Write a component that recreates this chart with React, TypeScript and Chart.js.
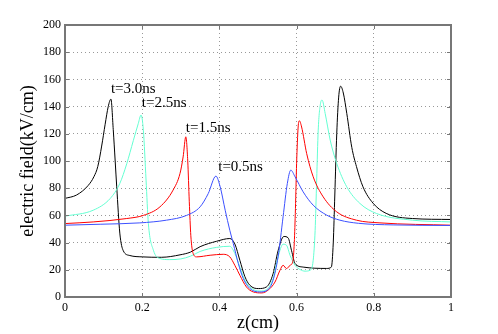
import React, { useEffect, useRef } from "react";
import { Chart, registerables } from "chart.js";

Chart.register(...registerables);

// t = 0.5 ns (blue)
const zBlue = [0, 0.091, 0.194, 0.263, 0.315, 0.35, 0.371, 0.391, 0.402, 0.415, 0.427, 0.436, 0.449, 0.462, 0.479, 0.505, 0.526, 0.539, 0.552, 0.565, 0.576, 0.585, 0.596, 0.617, 0.643, 0.678, 0.712, 0.76, 0.85, 1];
const eBlue = [52.8, 53.5, 54.5, 56.5, 60, 66.3, 76, 88.9, 81, 63.8, 49, 39.3, 24.6, 13.5, 6.2, 3.7, 5.4, 12.3, 29.5, 59, 83.5, 93.3, 88.4, 77.3, 67.5, 60.2, 56.5, 54.2, 53, 52.6];

// t = 1.5 ns (red)
const zRed = [0, 0.073, 0.16, 0.203, 0.246, 0.28, 0.298, 0.306, 0.313, 0.318, 0.322, 0.326, 0.332, 0.341, 0.376, 0.41, 0.427, 0.44, 0.453, 0.47, 0.488, 0.51, 0.526, 0.544, 0.557, 0.565, 0.574, 0.583, 0.59, 0.594, 0.597, 0.6, 0.604, 0.607, 0.613, 0.626, 0.643, 0.669, 0.704, 0.755, 0.816, 1];
const eRed = [54, 55.2, 57.7, 60, 66.3, 78.6, 90.9, 103, 117.8, 100, 70, 45, 32, 29.5, 30.7, 31.4, 29.5, 23.3, 16, 7.4, 3.7, 3, 5, 11, 19.7, 23.3, 20.9, 23.3, 26, 40, 65, 98, 125, 129.6, 125, 105.6, 88.4, 73.6, 62.6, 56.5, 54.5, 52.8];

// t = 2.5 ns (cyan)
const zCyan = [0, 0.073, 0.117, 0.142, 0.16, 0.177, 0.19, 0.197, 0.203, 0.21, 0.216, 0.229, 0.246, 0.27, 0.3, 0.325, 0.35, 0.393, 0.427, 0.44, 0.453, 0.466, 0.484, 0.505, 0.522, 0.539, 0.552, 0.565, 0.574, 0.583, 0.596, 0.609, 0.622, 0.635, 0.643, 0.648, 0.652, 0.656, 0.662, 0.666, 0.674, 0.687, 0.704, 0.73, 0.764, 0.807, 0.9, 1];
const eCyan = [59.4, 63.8, 72.4, 83.5, 98, 115, 127.7, 133.8, 122.7, 86, 54, 34.4, 28.3, 27.5, 28, 30, 33.5, 36.5, 37.3, 32, 22, 12.3, 6.2, 4.4, 5.4, 13.5, 29.5, 38.8, 38, 30.7, 23.3, 20.2, 19, 19.7, 27, 49, 86, 122.7, 142.4, 144.8, 135, 115.4, 98.2, 81, 68.8, 61.4, 56.5, 55.2];

// t = 3.0 ns (black)
const zBlack = [0, 0.03, 0.06, 0.075, 0.085, 0.095, 0.104, 0.112, 0.119, 0.125, 0.13, 0.134, 0.142, 0.151, 0.168, 0.2, 0.25, 0.298, 0.325, 0.35, 0.393, 0.427, 0.44, 0.453, 0.466, 0.479, 0.501, 0.522, 0.539, 0.552, 0.567, 0.578, 0.587, 0.596, 0.617, 0.678, 0.69, 0.695, 0.699, 0.704, 0.709, 0.714, 0.721, 0.73, 0.743, 0.755, 0.772, 0.798, 0.832, 0.9, 1];
const eBlack = [72.5, 75, 82, 88.5, 96, 111, 127, 140, 145.5, 123, 100, 81, 47, 34, 30.5, 29.5, 29.2, 31, 33, 37, 41, 43, 39, 27, 15, 8.6, 6.2, 7.4, 17, 34, 44.5, 43.5, 34, 24.6, 22, 21, 22, 40, 75, 120, 147, 155, 150, 135, 110, 96, 81, 69, 61.5, 57.7, 57];

const xTickValues = [0, 0.2, 0.4, 0.6, 0.8, 1];
const xTickLabels = ["0", "0.2", "0.4", "0.6", "0.8", "1"];
const yTickValues = [0, 20, 40, 60, 80, 100, 120, 140, 160, 180, 200];
const yTickLabels = ["0", "20", "40", "60", "80", "100", "120", "140", "160", "180", "200"];

const curveLabels = ["t=3.0ns", "t=2.5ns", "t=1.5ns", "t=0.5ns"];
const curveLabelZ = [0.119, 0.199, 0.313, 0.397];
const curveLabelE = [149.8, 139.5, 121.5, 92.8];

const FONT = "'Liberation Serif', 'DejaVu Serif', serif";

const toPoints = (z: number[], e: number[]) => z.map((x, i) => ({ x, y: e[i] }));

export default function App() {
  const ref = useRef<HTMLCanvasElement | null>(null);

  useEffect(() => {
    if (!ref.current) return;
    const framePlugin = {
      id: "frame",
      afterDatasetsDraw(chart: any) {
        const { ctx, chartArea, scales } = chart;
        const { left, right, top, bottom } = chartArea;
        const xs = scales.x;
        const ys = scales.y;
        ctx.save();
        ctx.strokeStyle = "#777";
        ctx.lineWidth = 1;
        ctx.beginPath();
        xTickValues.forEach((v) => {
          const px = Math.round(xs.getPixelForValue(v)) + 0.5;
          ctx.moveTo(px, bottom);
          ctx.lineTo(px, bottom - 4);
          ctx.moveTo(px, top);
          ctx.lineTo(px, top + 4);
        });
        yTickValues.forEach((v) => {
          const py = Math.round(ys.getPixelForValue(v)) + 0.5;
          ctx.moveTo(left, py);
          ctx.lineTo(left + 4, py);
          ctx.moveTo(right, py);
          ctx.lineTo(right - 4, py);
        });
        ctx.stroke();
        ctx.lineWidth = 2;
        ctx.strokeRect(left, top, right - left, bottom - top);
        ctx.fillStyle = "#000";
        ctx.font = `15px ${FONT}`;
        ctx.textAlign = "left";
        ctx.textBaseline = "alphabetic";
        curveLabels.forEach((t, i) => {
          ctx.fillText(t, xs.getPixelForValue(curveLabelZ[i]), ys.getPixelForValue(curveLabelE[i]));
        });
        ctx.restore();
      },
    };

    const chart = new Chart(ref.current, {
      type: "scatter",
      data: {
        datasets: [
          { label: "t=0.5ns", data: toPoints(zBlue, eBlue), borderColor: "rgb(60,80,255)" },
          { label: "t=1.5ns", data: toPoints(zRed, eRed), borderColor: "rgb(255,0,0)" },
          { label: "t=2.5ns", data: toPoints(zCyan, eCyan), borderColor: "rgb(100,255,210)" },
          { label: "t=3.0ns", data: toPoints(zBlack, eBlack), borderColor: "rgb(0,0,0)" },
        ].map((d) => ({
          ...d,
          showLine: true,
          pointRadius: 0,
          borderWidth: 1,
          cubicInterpolationMode: "monotone" as const,
          fill: false,
        })),
      },
      options: {
        animation: false,
        responsive: false,
        devicePixelRatio: 1,
        layout: { padding: { top: 25, right: 47, left: 0, bottom: 0 } },
        plugins: { legend: { display: false }, tooltip: { enabled: false } },
        scales: {
          x: {
            type: "linear",
            min: 0,
            max: 1,
            afterFit: (s: any) => { s.height = 37; },
            afterBuildTicks: (s: any) => { s.ticks = xTickValues.map((v) => ({ value: v })); },
            ticks: {
              padding: 4,
              color: "#000",
              font: { family: FONT, size: 12 },
              maxRotation: 0,
              callback: (v: any) => { const i = xTickValues.indexOf(Number(v)); return i >= 0 ? xTickLabels[i] : ""; },
            },
            grid: { color: "rgba(0,0,0,0.4)", drawTicks: false, lineWidth: 1 },
            border: { display: false, dash: [1, 3] },
            title: { display: true, text: "z(cm)", color: "#000", font: { family: FONT, size: 18 }, padding: { top: 0, bottom: 0 } },
          },
          y: {
            type: "linear",
            min: 0,
            max: 200,
            afterFit: (s: any) => { s.width = 65; },
            afterBuildTicks: (s: any) => { s.ticks = yTickValues.map((v) => ({ value: v })); },
            ticks: {
              padding: 4,
              color: "#000",
              font: { family: FONT, size: 12 },
              callback: (v: any) => { const i = yTickValues.indexOf(Number(v)); return i >= 0 ? yTickLabels[i] : ""; },
            },
            grid: { color: "rgba(0,0,0,0.4)", drawTicks: false, lineWidth: 1 },
            border: { display: false, dash: [1, 3] },
            title: { display: true, text: "electric field(kV/cm)", color: "#000", font: { family: FONT, size: 18 }, padding: { top: 17, bottom: 0 } },
          },
        },
      },
      plugins: [framePlugin],
    } as any);
    return () => chart.destroy();
  }, []);

  return (
    <div style={{ position: "fixed", left: 0, top: 0, width: 498, height: 334, background: "#fff" }}>
      <canvas ref={ref} width={498} height={334} />
    </div>
  );
}
